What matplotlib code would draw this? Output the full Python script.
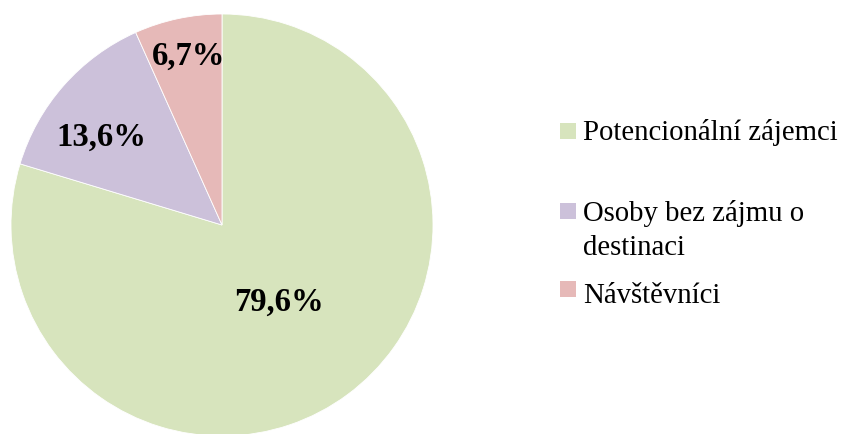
import numpy as np
import matplotlib.pyplot as plt
from matplotlib.patches import Rectangle

labels = ['Potencionální zájemci', 'Osoby bez zájmu o\ndestinaci', 'Návštěvníci']
values = [79.6, 13.6, 6.7]
colors = ['#d7e4bd', '#ccc1da', '#e6b9b8']
# where each percentage sits: fraction of radius, and nudge from mid-angle (deg)
label_r = [0.45, 0.71, 0.82]
label_nudge = [0, 5, -1]

plt.rcParams['font.family'] = ['Liberation Serif', 'DejaVu Serif']

W, H = 843, 435
fig = plt.figure(figsize=(W / 100, H / 100), dpi=100)
# pie box in pixels: centre (222, 226), radius 211
cx, cy, r = 222, 226, 211
ax = fig.add_axes([(cx - r) / W, (H - cy - r) / H, 2 * r / W, 2 * r / H])

wedges, _ = ax.pie(values, colors=colors, startangle=90, counterclock=False,
                   wedgeprops=dict(edgecolor='white', linewidth=0.6))
ax.set_xlim(-1, 1)
ax.set_ylim(-1, 1)

for w, v, lr, nd in zip(wedges, values, label_r, label_nudge):
    ang = np.deg2rad((w.theta1 + w.theta2) / 2 + nd)
    txt = f"{v:.1f}".replace('.', ',') + '%'
    ax.text(lr * np.cos(ang), lr * np.sin(ang), txt, ha='center', va='center',
            fontsize=23.5, fontweight='bold')

# legend drawn by hand so the marker sits on the first line of a wrapped label
marker_y = [131.5, 212, 290]
baselines = [140, 221, 303]
line_gap = 34
for lab, col, my, by in zip(labels, colors, marker_y, baselines):
    fig.patches.append(Rectangle((560 / W, (H - my - 8) / H), 16 / W, 16 / H,
                                 transform=fig.transFigure, facecolor=col,
                                 edgecolor='none'))
    for k, line in enumerate(lab.split('\n')):
        fig.text(583 / W, (H - by - k * line_gap) / H, line, ha='left',
                 va='baseline', fontsize=20.7)

fig.savefig('out.png', dpi=100)
